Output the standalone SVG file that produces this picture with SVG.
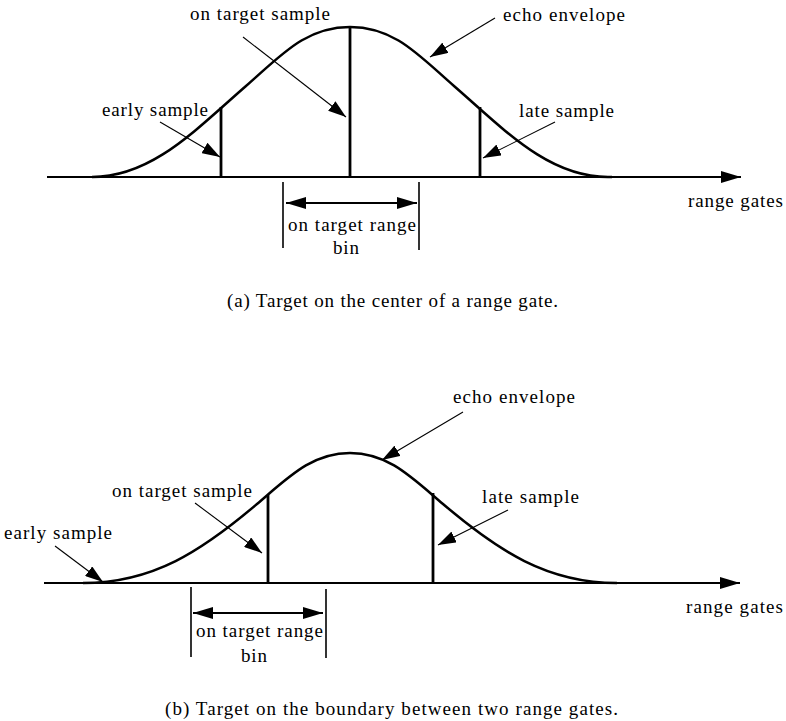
<svg xmlns="http://www.w3.org/2000/svg" width="786" height="721" viewBox="0 0 786 721">
<style>
text{font-family:"Liberation Serif","Times New Roman",serif;font-size:19px;fill:#000}
.axis{stroke:#000;stroke-width:2;fill:none}
.curve{stroke:#000;stroke-width:2.5;fill:none}
.samp{stroke:#000;stroke-width:2.8}
.ptr{stroke:#000;stroke-width:1.1;fill:none;marker-end:url(#ah)}
.brk{stroke:#000;stroke-width:1.6}
.dbl{stroke:#000;stroke-width:2;marker-start:url(#ah2);marker-end:url(#ah2)}
</style>
<defs>
<marker id="ah" markerUnits="userSpaceOnUse" markerWidth="20" markerHeight="12" refX="18" refY="6" orient="auto"><path d="M0,0 L18,6 L0,12 z" fill="#000"/></marker>
<marker id="ah2" markerUnits="userSpaceOnUse" markerWidth="22" markerHeight="12" refX="20" refY="6" orient="auto-start-reverse"><path d="M0,0 L20,6 L0,12 z" fill="#000"/></marker>
<marker id="ax" markerUnits="userSpaceOnUse" markerWidth="22" markerHeight="12" refX="20" refY="6" orient="auto"><path d="M0,0 L20,6 L0,12 z" fill="#000"/></marker>
</defs>

<g id="panel-a">
  <g id="a-axis"><line class="axis" x1="47" y1="177" x2="741" y2="177" marker-end="url(#ax)"/></g>
  <g id="a-envelope"><path class="curve" d="M92,177 C152,177 196,129.4 246,86 C281,55.7 305,27 350,27 C395,27 419,55.7 454,86 C504,129.4 548,177 608,177 L612,177"/></g>
  <g id="a-early"><line class="samp" x1="221" y1="107" x2="221" y2="178"/></g>
  <g id="a-ontarget"><line class="samp" x1="350" y1="27" x2="350" y2="178"/></g>
  <g id="a-late"><line class="samp" x1="480" y1="107" x2="480" y2="178"/></g>
  <g id="a-bin">
    <line class="brk" x1="283" y1="182" x2="283" y2="248"/>
    <line class="brk" x1="419" y1="182" x2="419" y2="250"/>
    <line class="dbl" x1="286" y1="203" x2="417" y2="203"/>
  </g>
  <g id="a-labels">
    <text x="190" y="20" textLength="140" lengthAdjust="spacing">on target sample</text>
    <text x="503" y="21" textLength="122" lengthAdjust="spacing">echo envelope</text>
    <text x="102" y="116" textLength="106" lengthAdjust="spacing">early sample</text>
    <text x="519" y="117" textLength="95" lengthAdjust="spacing">late sample</text>
    <text x="688" y="207" textLength="95" lengthAdjust="spacing">range gates</text>
    <text x="288" y="231" textLength="128" lengthAdjust="spacing">on target range</text>
    <text x="333" y="254" textLength="26" lengthAdjust="spacing">bin</text>
    <text x="227" y="307" textLength="331" lengthAdjust="spacing">(a) Target on the center of a range gate.</text>
  </g>
</g>

<g id="panel-b">
  <g id="b-axis"><line class="axis" x1="44" y1="583" x2="740" y2="583" marker-end="url(#ax)"/></g>
  <g id="b-envelope"><path class="curve" d="M83,583 C153,583 202,550.75 257,504 C289,476.8 312,453 350,453 C388,453 411,476.8 443,504 C498,550.75 547,583 617,583"/></g>
  <g id="b-ontarget"><line class="samp" x1="268" y1="495" x2="268" y2="584"/></g>
  <g id="b-late"><line class="samp" x1="433" y1="493" x2="433" y2="584"/></g>
  <g id="b-bin">
    <line class="brk" x1="191" y1="587" x2="191" y2="657"/>
    <line class="brk" x1="326" y1="589" x2="326" y2="658"/>
    <line class="dbl" x1="193" y1="613" x2="323" y2="613"/>
  </g>
  <g id="b-labels">
    <text x="453" y="403" textLength="122" lengthAdjust="spacing">echo envelope</text>
    <text x="112" y="497" textLength="140" lengthAdjust="spacing">on target sample</text>
    <text x="482" y="503" textLength="97" lengthAdjust="spacing">late sample</text>
    <text x="4" y="539" textLength="108" lengthAdjust="spacing">early sample</text>
    <text x="686" y="613" textLength="97" lengthAdjust="spacing">range gates</text>
    <text x="196" y="637" textLength="127" lengthAdjust="spacing">on target range</text>
    <text x="241" y="662" textLength="26" lengthAdjust="spacing">bin</text>
    <text x="165" y="715" textLength="453" lengthAdjust="spacing">(b) Target on the boundary between two range gates.</text>
  </g>
</g>

<g id="connectors">
  <line class="ptr" x1="243" y1="37" x2="346" y2="117"/>
  <line class="ptr" x1="160" y1="122" x2="220" y2="157"/>
  <line class="ptr" x1="495" y1="18" x2="430" y2="57"/>
  <line class="ptr" x1="555" y1="122" x2="483" y2="158"/>
  <line class="ptr" x1="463" y1="412" x2="382" y2="460"/>
  <line class="ptr" x1="508" y1="510" x2="438" y2="545"/>
  <line class="ptr" x1="195" y1="503" x2="262" y2="553"/>
  <line class="ptr" x1="55" y1="546" x2="103" y2="582"/>
</g>
</svg>
